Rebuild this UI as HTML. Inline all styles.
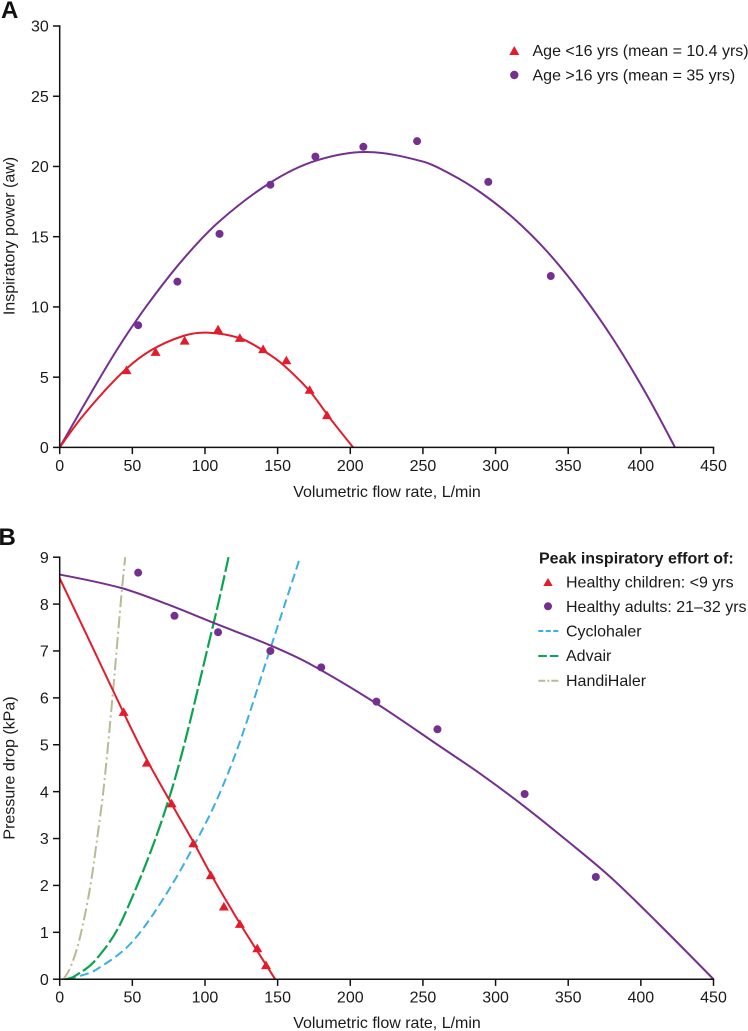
<!DOCTYPE html>
<html>
<head>
<meta charset="utf-8">
<style>
html,body{margin:0;padding:0;background:#fff;width:748px;height:1031px;overflow:hidden}
svg{display:block;font-family:"Liberation Sans",sans-serif;fill:#1a1a1a}
text{font-size:16px}
</style>
</head>
<body>
<svg id="fig" width="748" height="1031" viewBox="0 0 748 1031" xmlns="http://www.w3.org/2000/svg">
<text x="1" y="18" style="font-size:24px;font-weight:bold;fill:#111">A</text>
<text x="-1.5" y="545" style="font-size:24px;font-weight:bold;fill:#111">B</text>
<text x="387" y="497" text-anchor="middle">Volumetric flow rate, L/min</text>
<text x="387" y="1028" text-anchor="middle">Volumetric flow rate, L/min</text>
<text transform="translate(14.5,236) rotate(-90)" text-anchor="middle">Inspiratory power (aw)</text>
<text transform="translate(14.5,768) rotate(-90)" text-anchor="middle">Pressure drop (kPa)</text>

<g>
<polygon points="509.3,55 519.3,55 514.3,46" fill="#e31b2b"/>
<text x="532.5" y="56">Age &lt;16 yrs (mean = 10.4 yrs)</text>
<circle cx="514.3" cy="75" r="4.2" fill="#74308f"/>
<text x="532.5" y="80.5">Age &gt;16 yrs (mean = 35 yrs)</text>
</g>

<g>
<text x="539" y="563.5" style="font-weight:bold">Peak inspiratory effort of:</text>
<polygon points="543.3,586 552.7,586 548,578" fill="#e31b2b"/>
<text x="566" y="587.5">Healthy children: &lt;9 yrs</text>
<circle cx="548" cy="606.3" r="4" fill="#74308f"/>
<text x="566" y="612">Healthy adults: 21–32 yrs</text>
<line x1="538.3" x2="558.3" y1="631" y2="631" stroke="#3daee3" stroke-width="2" stroke-dasharray="5 2.5"/>
<text x="566" y="636.5">Cyclohaler</text>
<line x1="538.3" x2="558.3" y1="656" y2="656" stroke="#0aa54f" stroke-width="2" stroke-dasharray="8.5 3"/>
<text x="566" y="661">Advair</text>
<line x1="538.3" x2="558.3" y1="680.7" y2="680.7" stroke="#b9b995" stroke-width="2" stroke-dasharray="7 2 2 2"/>
<text x="566" y="686">HandiHaler</text>
</g>
</svg>
<script>
const xTicks = [0, 50, 100, 150, 200, 250, 300, 350, 400, 450];
const yTicksA = [0, 5, 10, 15, 20, 25, 30];
const yTicksB = [0, 1, 2, 3, 4, 5, 6, 7, 8, 9];

const curveAdultFlowA = [0, 20, 40, 60, 85, 110, 145, 176, 211, 250, 270, 289, 312, 335, 358, 381, 404, 423.5];
const curveAdultPowerA = [0, 3.6, 7.05, 10.1, 13.4, 16.1, 18.85, 20.4, 21.03, 20.35, 19.4, 18.2, 16.35, 14, 11.1, 7.7, 3.75, 0];
const curveChildFlowA = [0, 16.4, 42.8, 62.3, 85.2, 101.3, 124.2, 140.2, 154, 172.4, 186, 202];
const curveChildPowerA = [0, 2.3, 5.3, 6.88, 7.94, 8.17, 7.77, 6.89, 5.87, 3.97, 2.08, 0];
const adultFlowA = [54, 81, 110, 145, 176, 209, 246, 295, 338];
const adultPowerA = [8.7, 11.8, 15.2, 18.7, 20.7, 21.4, 21.8, 18.9, 12.2];
const childFlowA = [46, 66, 86, 109, 124, 140, 156, 172, 184];
const childPowerA = [5.5, 6.8, 7.6, 8.4, 7.8, 7, 6.2, 4.1, 2.3];

const curveAdultFlowB = [0, 42.8, 73.8, 105.9, 144.9, 172.4, 218, 262, 290, 320, 349, 379, 411, 450];
const curveAdultDropB = [8.63, 8.34, 8, 7.6, 7.12, 6.72, 5.88, 4.96, 4.37, 3.68, 2.96, 2.18, 1.22, 0];
const curveChildFlowB = [0, 20, 44, 60, 77, 93, 104, 124, 136, 148.3];
const curveChildDropB = [8.55, 7.25, 5.68, 4.68, 3.74, 2.87, 2.24, 1.19, 0.6, 0];
const adultFlowB = [54, 79, 109, 145, 180, 218, 260, 320, 369];
const adultDropB = [8.67, 7.75, 7.4, 7, 6.65, 5.92, 5.33, 3.95, 2.18];
const childFlowB = [44, 60, 77, 92, 104, 113, 124, 136, 142];
const childDropB = [5.7, 4.62, 3.75, 2.9, 2.22, 1.55, 1.18, 0.66, 0.3];
const cycloFlow = [5, 15, 25, 50, 76, 100, 112, 125, 145, 165.5];
const cycloDrop = [0, 0.08, 0.2, 0.8, 1.95, 3.3, 4.1, 5.15, 7.05, 9];
const advairFlow = [4, 10, 25, 44, 77, 106, 116.2];
const advairDrop = [0, 0.06, 0.42, 1.33, 4.03, 7.6, 9];
const handiFlow = [2.6, 8, 14, 21, 25.6, 30.2, 36, 42.8, 45.1];
const handiDrop = [0, 0.3, 0.9, 1.97, 2.96, 4.06, 5.9, 8.3, 9];

const NS = 'http://www.w3.org/2000/svg';
const fig = document.getElementById('fig');
const AXIS_COLOR = '#111';
const xScale = v => 59.7 + v * (713.5 - 59.7) / 450;
const yA = v => 447.4 - v * (447.4 - 26) / 30;
const yB = v => 979.2 - v * (979.2 - 557.2) / 9;

function make(tag, attrs, parent) {
  const el = document.createElementNS(NS, tag);
  for (const k in attrs) el.setAttribute(k, attrs[k]);
  (parent || fig).appendChild(el);
  return el;
}

function smoothPath(xs, ys, yFn) {
  const px = xs.map(xScale), py = ys.map(yFn), n = px.length;
  const sec = [];
  for (let i = 0; i < n - 1; i++) sec.push((py[i + 1] - py[i]) / (px[i + 1] - px[i]));
  const m = [];
  for (let i = 1; i < n - 1; i++) m[i] = (py[i + 1] - py[i - 1]) / (px[i + 1] - px[i - 1]);
  m[0] = (3 * sec[0] - m[1]) / 2;
  m[n - 1] = (3 * sec[n - 2] - m[n - 2]) / 2;
  let d = 'M' + px[0].toFixed(2) + ' ' + py[0].toFixed(2);
  for (let i = 0; i < n - 1; i++) {
    const h = (px[i + 1] - px[i]) / 3;
    d += 'C' + [px[i] + h, py[i] + m[i] * h, px[i + 1] - h, py[i + 1] - m[i + 1] * h, px[i + 1], py[i + 1]].map(v => v.toFixed(2)).join(' ');
  }
  return d;
}

function drawAxes(prefix, yTicks, yFn) {
  const group = make('g', {});
  
  
  const base = yFn(0), top = yFn(yTicks[yTicks.length - 1]);
  const yAxis = make('line', {x1: xScale(0), x2: xScale(0), y1: top - 0.75, y2: base + 0.75, stroke: AXIS_COLOR, 'stroke-width': 1.5}, group);
  
  
  const xAxis = make('line', {x1: xScale(0), x2: xScale(450) + 0.75, y1: base, y2: base, stroke: AXIS_COLOR, 'stroke-width': 1.5}, group);
  
  
  yTicks.forEach(t => {
    const y = yFn(t);
    const tick = make('line', {x1: xScale(0) - 6.7, x2: xScale(0), y1: y, y2: y, stroke: AXIS_COLOR, 'stroke-width': 1.5}, group);
    
    
    const label = make('text', {x: 48.8, y: y + 5.7, 'text-anchor': 'end'}, group);
    
    
    label.textContent = t;
  });
  xTicks.forEach(t => {
    const x = xScale(t);
    const tick = make('line', {x1: x, x2: x, y1: base, y2: base + 6.7, stroke: AXIS_COLOR, 'stroke-width': 1.5}, group);
    
    
    const label = make('text', {x: x, y: base + 23.5, 'text-anchor': 'middle'}, group);
    
    
    label.textContent = t;
  });
}

function drawCurve(name, xs, ys, yFn, color, width, dash) {
  const attrs = {d: smoothPath(xs, ys, yFn), fill: 'none', stroke: color, 'stroke-width': width};
  if (dash) attrs['stroke-dasharray'] = dash;
  const el = make('path', attrs);
  
  
}

function drawCircles(name, xs, ys, yFn) {
  xs.forEach((x, i) => {
    const el = make('circle', {cx: xScale(x), cy: yFn(ys[i]), r: 4, fill: '#74308f'});
    
    
  });
}

function drawTriangles(name, xs, ys, yFn) {
  xs.forEach((x, i) => {
    const cx = xScale(x), cy = yFn(ys[i]);
    const el = make('polygon', {points: [[cx - 5, cy + 4], [cx + 5, cy + 4], [cx, cy - 4.6]].map(q => q.join(',')).join(' '), fill: '#e31b2b'});
    
    
  });
}

drawCurve('panel-a-adult-fit-line', curveAdultFlowA, curveAdultPowerA, yA, '#74308f', 2);
drawCurve('panel-a-child-fit-line', curveChildFlowA, curveChildPowerA, yA, '#e31b2b', 2);
drawCircles('panel-a-adult-point', adultFlowA, adultPowerA, yA);
drawTriangles('panel-a-child-point', childFlowA, childPowerA, yA);

drawCurve('panel-b-handihaler-line', handiFlow, handiDrop, yB, '#b9b995', 2, '12 3.5 2 3.5');
drawCurve('panel-b-cyclohaler-line', cycloFlow, cycloDrop, yB, '#3daee3', 2, '9 4.5');
drawCurve('panel-b-advair-line', advairFlow, advairDrop, yB, '#0aa54f', 2.2, '16 3.5');
drawCurve('panel-b-adult-fit-line', curveAdultFlowB, curveAdultDropB, yB, '#74308f', 2);
drawCurve('panel-b-child-fit-line', curveChildFlowB, curveChildDropB, yB, '#e31b2b', 2);
drawCircles('panel-b-adult-point', adultFlowB, adultDropB, yB);
drawTriangles('panel-b-child-point', childFlowB, childDropB, yB);

drawAxes('panel-a', yTicksA, yA);
drawAxes('panel-b', yTicksB, yB);
</script>
</body>
</html>
